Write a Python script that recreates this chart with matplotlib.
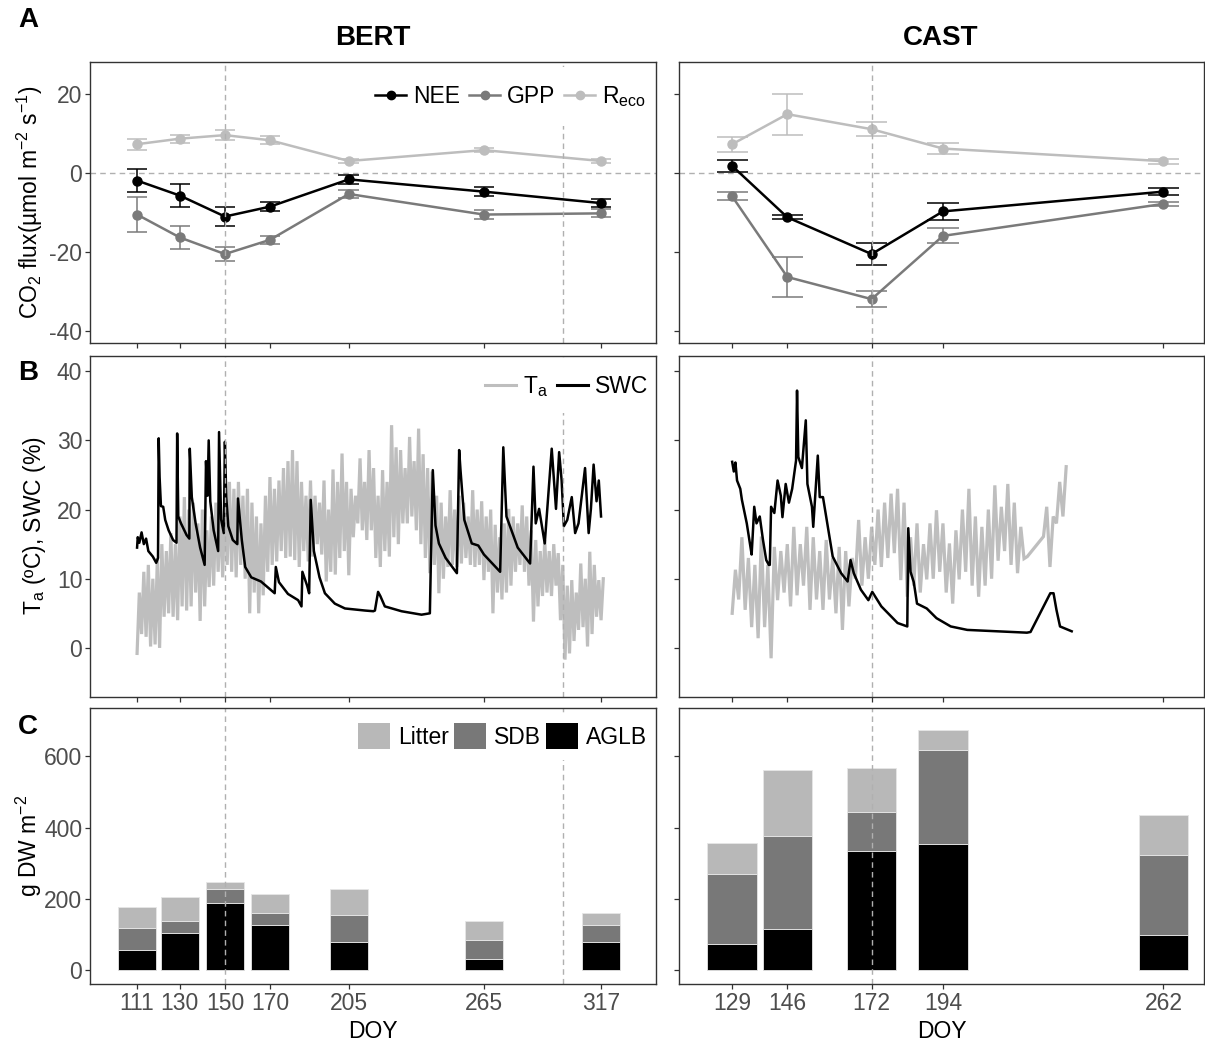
import numpy as np
import matplotlib
matplotlib.use('Agg')
import matplotlib.pyplot as plt
from matplotlib.lines import Line2D
from matplotlib.patches import Patch

plt.rcParams['font.family'] = ['Liberation Sans', 'DejaVu Sans']
plt.rcParams['mathtext.fontset'] = 'custom'
plt.rcParams['mathtext.rm'] = 'Liberation Sans'
plt.rcParams['mathtext.it'] = 'Liberation Sans:italic'
plt.rcParams['mathtext.bf'] = 'Liberation Sans:bold'
plt.rcParams['axes.unicode_minus'] = False

# ---------------- data ----------------
bert_doy = [111, 130, 150, 170, 205, 265, 317]
cast_doy = [129, 146, 172, 194, 262]

bert_nee = [-1.9, -5.7, -11.0, -8.5, -1.6, -4.7, -7.6]
bert_nee_se = [2.9, 2.9, 2.5, 1.1, 1.2, 1.1, 1.0]
bert_gpp = [-10.5, -16.3, -20.5, -16.9, -5.3, -10.5, -10.2]
bert_gpp_se = [4.4, 3.0, 1.7, 1.0, 1.0, 1.1, 1.0]
bert_reco = [7.3, 8.7, 9.6, 8.3, 3.05, 5.8, 3.05]
bert_reco_se = [1.4, 1.0, 1.2, 1.0, 0.5, 0.5, 0.5]

cast_nee = [1.8, -11.2, -20.5, -9.7, -4.7]
cast_nee_se = [1.6, 0.5, 2.8, 2.2, 0.8]
cast_gpp = [-5.9, -26.3, -31.9, -15.9, -7.8]
cast_gpp_se = [1.0, 5.1, 2.0, 1.9, 0.6]
cast_reco = [7.3, 14.9, 11.1, 6.2, 3.0]
cast_reco_se = [1.9, 5.2, 1.7, 1.3, 0.6]

bert_aglb = [56, 103, 187, 125, 78, 31, 78]
bert_sdb = [63, 35, 40, 34, 76, 52, 47]
bert_litter = [59, 66, 20, 55, 73, 55, 34]
cast_aglb = [73, 116, 333, 353, 98]
cast_sdb = [197, 260, 110, 265, 226]
cast_litter = [88, 186, 124, 55, 111]

# air temperature: daily low / high read every 2 days
bert_ta_day = list(range(111, 318, 2))
bert_ta_lo = [-0.8, 2, 1.6, 0.2, 0.5, 0, 4.5, 5, 4.5, 4, 6, 5.4, 6, 8, 3.9, 6, 8.8, 9, 11, 10.2,
              12, 11, 10.2, 12, 10, 5, 8, 5, 7.6, 11, 12, 12.5, 14, 13, 13.2, 12.7, 11.7, 14, 12.5, 13.2,
              15, 13.5, 9.6, 11, 10.6, 13, 14, 10.5, 16, 18, 17, 15.6, 17, 13, 11.7, 14, 13.2, 16, 15, 18,
              18, 19, 17, 15, 13, 10.8, 12, 7.9, 10, 11.7, 12, 11.7, 12.2, 13, 12, 11.7, 12, 9.8, 11, 5,
              8, 7, 8, 9, 11, 12, 11, 9, 3.8, 6, 7.5, 8, 7.5, 9, 4, -1.7, -0.8, 1, 2.6, 3,
              0.2, 2, 4.5, 4]
bert_ta_hi = [8, 11, 12, 10, 13, 15, 14, 16.6, 15, 19, 21.8, 20, 21, 18, 20, 17, 19, 21, 20, 22,
              24, 23, 24, 22, 23, 21, 19, 18, 22, 24.7, 23, 24.2, 26, 27, 28.6, 27, 24, 22, 24.2, 22,
              21, 24.2, 20, 25.8, 24, 28.1, 24, 23, 22, 27.4, 24, 28.6, 26, 22, 25.7, 24, 32.2, 29, 28.6, 26,
              30.5, 27, 31.7, 28, 26, 25.5, 22, 21, 19, 22.8, 20, 22, 21, 19, 22.8, 20, 21.2, 19, 20, 17.8,
              16, 18, 20.1, 19, 18, 20.6, 19, 17, 15.6, 14, 15.6, 14, 15, 13.7, 12, 9, 9.8, 8, 12.2, 10,
              13.9, 12, 9.8, 10]

cast_ta_day = list(range(129, 218, 2)) + [219, 225, 227, 229, 231]
cast_ta_lo = [5, 7, 5.5, 3, 1.4, 3, -1.5, 6.9, 8, 6, 7.6, 9, 5.5, 7, 5.5, 7, 5, 2.6, 6, 10,
              9, 10, 12, 11.7, 13, 13.7, 9.8, 7.4, 9, 8, 9.9, 10, 11, 8, 6.4, 9.9, 11, 9, 7.4, 9,
              10, 12.6, 14, 12, 10.8, 12.9, 16.1, 11.7, 18, 19]
cast_ta_hi = [11.3, 16, 13, 12, 16.1, 12, 14.6, 14, 15, 17.5, 15, 17.5, 16, 14, 15.6, 13, 14.6, 14, 13, 18.5,
              16, 17.5, 20, 21, 22.3, 23, 21, 16, 18, 15, 18, 19.9, 18, 15.1, 17, 20, 23, 19, 17.5, 20,
              23.5, 20.4, 23.7, 21, 17.5, 13.2, 20.4, 19, 24, 26.2]

# soil water content traces
bert_swc_doy = [111.0, 111.3, 112.0, 113.0, 114.0, 115.0, 116.0, 118.0, 119.5, 120.3, 120.6, 121.0, 121.6,
                122.6, 123.5, 125.0, 127.0, 128.5, 128.8, 129.3, 130.5, 133.0, 134.2, 134.4, 135.3, 137.0,
                139.0, 141.0, 141.6, 142.3, 142.8, 143.5, 145.0, 147.0, 147.4, 148.3, 149.5, 150.0, 150.6,
                151.5, 153.5, 155.5, 155.8, 157.5, 159.0, 161.7, 166.0, 172.1, 172.6, 174.0, 178.0, 182.5,
                184.0, 184.4, 186.5, 187.4, 188.1, 189.5, 192.0, 194.4, 198.8, 203.3, 212.2, 215.9, 216.6,
                218.0, 219.0, 221.0, 228.4, 237.3, 241.0, 241.4, 242.3, 243.5, 245.0, 248.0, 253.0, 254.0,
                254.6, 256.3, 259.6, 262.5, 265.0, 272.2, 273.6, 275.0, 280.0, 285.5, 287.0, 288.0, 289.5,
                292.0, 295.1, 297.0, 298.4, 299.5, 300.5, 302.0, 304.0, 305.5, 307.0, 309.9, 311.5, 312.5,
                313.7, 315.0, 316.0, 317.0]
bert_swc_val = [14.5, 16.0, 15.2, 16.7, 15.0, 15.8, 14.0, 13.2, 12.3, 13.0, 30.3, 24.7, 20.5,
                20.4, 18.5, 17.0, 15.6, 15.2, 31.0, 19.0, 18.0, 16.3, 15.8, 28.8, 21.8, 18.0,
                14.5, 12.0, 27.0, 22.0, 30.0, 21.2, 17.0, 14.0, 31.2, 18.6, 16.6, 29.8, 21.8,
                17.6, 15.6, 15.0, 21.6, 15.6, 11.7, 10.2, 9.6, 7.9, 11.7, 9.5, 7.8, 6.9,
                6.0, 11.0, 9.0, 7.9, 21.4, 14.0, 10.2, 7.9, 6.4, 5.7, 5.4, 5.3, 5.4,
                8.1, 7.5, 6.0, 5.3, 4.8, 5.0, 11.7, 25.7, 17.7, 15.1, 13.0, 10.8, 28.6,
                25.7, 18.5, 15.1, 14.8, 13.5, 11.0, 29.0, 19.0, 14.5, 12.2, 26.2, 18.0, 20.1,
                15.1, 28.8, 20.1, 28.3, 24.2, 17.6, 18.5, 21.8, 16.6, 18.0, 26.0, 16.6, 20.1,
                26.5, 21.2, 24.2, 19.0]

cast_swc_doy = [129.0, 129.5, 130.0, 130.5, 131.5, 132.0, 133.5, 134.5, 135.0, 135.3, 135.8, 136.5, 137.5,
                138.5, 139.5, 140.3, 140.6, 141.0, 142.0, 143.0, 144.0, 144.5, 145.5, 146.5, 147.5, 148.7,
                149.0, 149.4, 150.5, 151.7, 152.2, 153.6, 154.0, 155.4, 156.0, 157.0, 158.5, 160.0, 162.6,
                164.6, 165.5, 166.5, 168.7, 171.0, 172.2, 175.0, 180.0, 183.0, 183.3, 184.0, 185.0, 186.0,
                189.0, 192.0, 196.4, 201.5, 210.7, 219.9, 221.0, 227.1, 228.1, 229.0, 230.1, 233.7]
cast_swc_val = [26.9, 25.5, 26.8, 24.2, 23.0, 21.4, 18.0, 15.0, 13.5, 16.0, 20.4, 18.0, 19.0,
                15.6, 12.7, 12.0, 12.0, 20.4, 19.5, 24.2, 22.0, 18.9, 23.7, 21.0, 23.0, 27.1,
                37.2, 27.6, 26.0, 32.9, 23.7, 20.4, 17.5, 27.8, 21.8, 21.8, 17.5, 13.2, 10.8,
                9.6, 12.7, 10.8, 8.4, 6.9, 8.1, 6.0, 3.6, 3.1, 17.3, 11.0, 9.5, 6.4,
                5.7, 4.3, 3.1, 2.6, 2.4, 2.2, 2.3, 7.9, 7.9, 5.5, 3.1, 2.4]

bert_ticks = [111, 130, 150, 170, 205, 265, 317]
cast_ticks = [129, 146, 172, 194, 262]
bert_vlines = [150, 300]
cast_vlines = [172]

# ---------------- styling ----------------
W, H = 1205, 1050
C_NEE, C_GPP, C_RECO = '#000000', '#7a7a7a', '#bdbdbd'
C_TA, C_SWC = '#bebebe', '#000000'
C_LIT, C_SDB, C_AGLB = '#b8b8b8', '#787878', '#000000'
FS = 16.5
TICKC = '#4d4d4d'

fig = plt.figure(figsize=(W / 100, H / 100), dpi=100)


def rect(l, r, t, b):
    return [l / W, 1 - b / H, (r - l) / W, (b - t) / H]


cols = [(90, 656, (90.1, 341.4), bert_ticks, bert_vlines),
        (679, 1204, (112.6, 274.5), cast_ticks, cast_vlines)]
rows = [(62, 343, (-43.0, 28.1), [-40, -20, 0, 20]),
        (356, 697, (-7.1, 42.2), [0, 10, 20, 30, 40]),
        (708, 984, (-39.4, 736), [0, 200, 400, 600])]

axes = [[None, None] for _ in range(3)]
for i, (t, b, ylim, yt) in enumerate(rows):
    for j, (l, r, xlim, xt, vl) in enumerate(cols):
        ax = fig.add_axes(rect(l, r, t, b))
        ax.set_xlim(*xlim)
        ax.set_ylim(*ylim)
        ax.set_xticks(xt)
        ax.set_yticks(yt)
        ax.tick_params(direction='out', length=3.5, width=0.9, colors='#333333',
                       labelcolor=TICKC, labelsize=FS, pad=2)
        if i < 2:
            ax.set_xticklabels([])
        if j == 1:
            ax.set_yticklabels([])
        for s in ax.spines.values():
            s.set_color('#333333')
            s.set_linewidth(1.0)
            s.set_zorder(12)
        for v in vl:
            ax.axvline(v, color='#b0b0b0', lw=1.0, ls=(0, (4, 3)), zorder=6)
        axes[i][j] = ax

# ---- panel A ----
flux_sets = [(bert_doy, bert_nee, bert_nee_se, bert_gpp, bert_gpp_se, bert_reco, bert_reco_se, 4.6),
             (cast_doy, cast_nee, cast_nee_se, cast_gpp, cast_gpp_se, cast_reco, cast_reco_se, 4.8)]
for j, (d, nee, nse, gpp, gse, reco, rse, cw) in enumerate(flux_sets):
    ax = axes[0][j]
    ax.axhline(0, color='#b0b0b0', lw=1.0, ls=(0, (4, 3)), zorder=1)
    for y, e, c, z in [(reco, rse, C_RECO, 2), (gpp, gse, C_GPP, 3), (nee, nse, C_NEE, 4)]:
        d_ = np.array(d, float)
        y_ = np.array(y, float)
        e_ = np.array(e, float)
        ax.vlines(d_, y_ - e_, y_ + e_, color=c, lw=1.1, zorder=z)
        ax.hlines(y_ - e_, d_ - cw, d_ + cw, color=c, lw=1.1, zorder=z)
        ax.hlines(y_ + e_, d_ - cw, d_ + cw, color=c, lw=1.1, zorder=z)
        ax.plot(d_, y_, color=c, lw=1.8, marker='o', ms=6.5, zorder=z)

hA = [Line2D([], [], color=C_NEE, lw=1.8, marker='o', ms=6),
      Line2D([], [], color=C_GPP, lw=1.8, marker='o', ms=6),
      Line2D([], [], color=C_RECO, lw=1.8, marker='o', ms=6)]
legA = axes[0][0].legend(hA, ['NEE', 'GPP', 'R$_{\\mathrm{eco}}$'], loc='upper right', ncol=3,
                         bbox_to_anchor=(1.021, 1.0),
                         frameon=True, facecolor='white', edgecolor='none', framealpha=1,
                         handlelength=1.35, handletextpad=0.3, columnspacing=0.4,
                         fontsize=FS, borderaxespad=0.2, borderpad=0.75, numpoints=1)
legA.set_zorder(10)

# ---- panel B ----
ta_sets = [(bert_ta_day, bert_ta_lo, bert_ta_hi, bert_swc_doy, bert_swc_val),
           (cast_ta_day, cast_ta_lo, cast_ta_hi, cast_swc_doy, cast_swc_val)]
for j, (td, tlo, thi, sd, sv) in enumerate(ta_sets):
    ax = axes[1][j]
    xs, ys = [], []
    for dd, lo, hi in zip(td, tlo, thi):
        xs += [dd, dd + 1]
        ys += [lo, hi]
    ax.plot(xs, ys, color=C_TA, lw=2.3, zorder=2, solid_joinstyle='miter')
    ax.plot(sd, sv, color=C_SWC, lw=1.8, zorder=3)

hB = [Line2D([], [], color=C_TA, lw=2.2), Line2D([], [], color=C_SWC, lw=2.2)]
legB = axes[1][0].legend(hB, ['T$_{\\mathrm{a}}$', 'SWC'], loc='upper right', ncol=2,
                         bbox_to_anchor=(1.018, 1.0),
                         frameon=True, facecolor='white', edgecolor='none', framealpha=1,
                         handlelength=1.35, handletextpad=0.3, columnspacing=0.4,
                         fontsize=FS, borderaxespad=0.2, borderpad=0.6)
legB.set_zorder(10)

# ---- panel C ----
bio_sets = [(bert_doy, bert_aglb, bert_sdb, bert_litter, 17.1),
            (cast_doy, cast_aglb, cast_sdb, cast_litter, 15.3)]
for j, (d, ag, sd, lt, w) in enumerate(bio_sets):
    ax = axes[2][j]
    ag = np.array(ag, float)
    sd = np.array(sd, float)
    lt = np.array(lt, float)
    ax.bar(d, ag, width=w, color=C_AGLB, edgecolor='#e6e6e6', lw=0.6, zorder=2)
    ax.bar(d, sd, width=w, bottom=ag, color=C_SDB, edgecolor='#e6e6e6', lw=0.6, zorder=2)
    ax.bar(d, lt, width=w, bottom=ag + sd, color=C_LIT, edgecolor='#e6e6e6', lw=0.6, zorder=2)
    ax.set_xlabel('DOY', fontsize=FS, labelpad=4)

hC = [Patch(facecolor=C_LIT, edgecolor='none'), Patch(facecolor=C_SDB, edgecolor='none'),
      Patch(facecolor=C_AGLB, edgecolor='none')]
legC = axes[2][0].legend(hC, ['Litter', 'SDB', 'AGLB'], loc='upper right', ncol=3,
                         bbox_to_anchor=(1.01, 1.0),
                         frameon=True, facecolor='white', edgecolor='none', framealpha=1,
                         handlelength=1.4, handleheight=1.4, handletextpad=0.35, columnspacing=0.2,
                         fontsize=FS, borderaxespad=0.2, borderpad=0.45)
legC.set_zorder(10)

# ---- titles, labels ----
fig.text(373 / W, 1 - 38 / H, 'BERT', ha='center', va='center', fontsize=20, fontweight='bold')
fig.text(941 / W, 1 - 38 / H, 'CAST', ha='center', va='center', fontsize=20, fontweight='bold')
for lab, y in [('A', 20), ('B', 373), ('C', 727)]:
    fig.text(28 / W, 1 - y / H, lab, ha='center', va='center', fontsize=20, fontweight='bold')

fig.text(30 / W, 1 - 202 / H, 'CO$_2$ flux(µmol m$^{-2}$ s$^{-1}$)', rotation=90,
         ha='center', va='center', fontsize=FS)
fig.text(35 / W, 1 - 526 / H, 'T$_{\\mathrm{a}}$ (ºC), SWC (%)', rotation=90,
         ha='center', va='center', fontsize=FS)
fig.text(29 / W, 1 - 846 / H, 'g DW m$^{-2}$', rotation=90,
         ha='center', va='center', fontsize=FS)

fig.savefig('out.png', dpi=100, facecolor='white')
